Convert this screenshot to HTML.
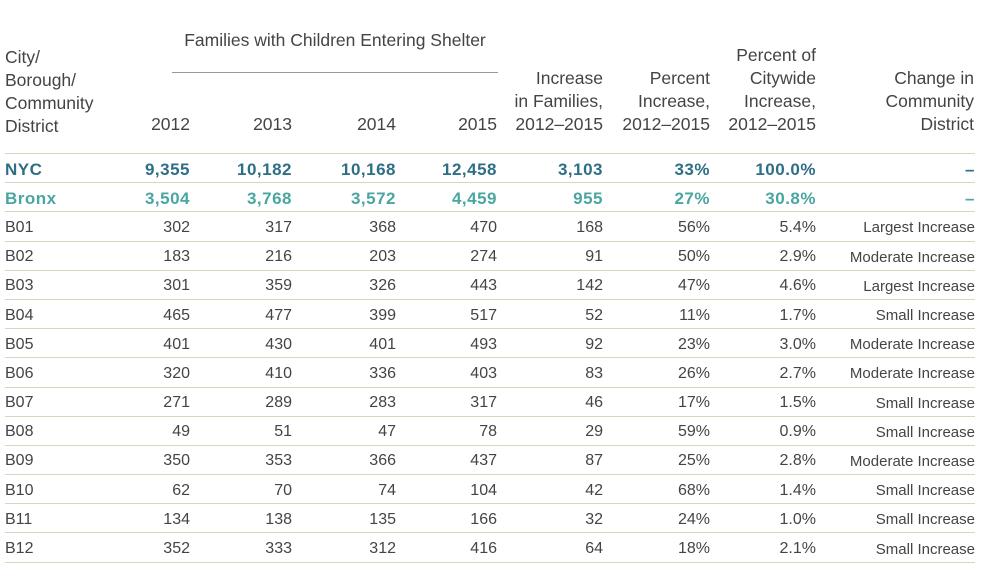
<!DOCTYPE html>
<html><head><meta charset="utf-8"><style>
body{margin:0;width:984px;height:574px;background:#fff;position:relative;font-family:"Liberation Sans",sans-serif;color:#444;overflow:hidden}
.h{position:absolute;font-size:17.5px;line-height:23px;color:#444}
.r{text-align:right}
table{position:absolute;left:5px;top:153px;border-collapse:collapse;table-layout:fixed;width:970px}
td{height:25.2px;padding:3px 0 0 0;border-top:1px solid #d6d6bd;font-size:16px;text-align:right;white-space:nowrap;vertical-align:middle}
td:first-child{text-align:left}
td.c{font-size:15px}
tr:last-child td{border-bottom:1px solid #d6d6bd}
tr.n td{color:#2e6f86;font-weight:bold;font-size:17px;letter-spacing:.5px}
tr.b td{color:#4aa6a0;font-weight:bold;font-size:17px;letter-spacing:.5px}
</style></head><body>
<div class="h" style="left:5px;top:46px">City/<br>Borough/<br>Community<br>District</div>
<div class="h" style="left:172px;top:29px;width:326px;text-align:center">Families with Children Entering Shelter</div>
<div style="position:absolute;left:172px;top:72px;width:326px;border-top:1px solid #999"></div>
<div class="h r" style="left:100px;top:113px;width:90px">2012</div>
<div class="h r" style="left:200px;top:113px;width:92px">2013</div>
<div class="h r" style="left:300px;top:113px;width:96px">2014</div>
<div class="h r" style="left:400px;top:113px;width:97px">2015</div>
<div class="h r" style="left:480px;top:67px;width:123px">Increase<br>in Families,<br>2012–2015</div>
<div class="h r" style="left:600px;top:67px;width:110px">Percent<br>Increase,<br>2012–2015</div>
<div class="h r" style="left:700px;top:44px;width:116px">Percent of<br>Citywide<br>Increase,<br>2012–2015</div>
<div class="h r" style="left:820px;top:67px;width:154px">Change in<br>Community<br>District</div>
<table>
<colgroup><col style="width:115px"><col style="width:70px"><col style="width:102px"><col style="width:104px"><col style="width:101px"><col style="width:106px"><col style="width:107px"><col style="width:106px"><col style="width:159px"></colgroup>
<tr class="n"><td>NYC</td><td>9,355</td><td>10,182</td><td>10,168</td><td>12,458</td><td>3,103</td><td>33%</td><td>100.0%</td><td>–</td></tr>
<tr class="b"><td>Bronx</td><td>3,504</td><td>3,768</td><td>3,572</td><td>4,459</td><td>955</td><td>27%</td><td>30.8%</td><td>–</td></tr>
<tr><td>B01</td><td>302</td><td>317</td><td>368</td><td>470</td><td>168</td><td>56%</td><td>5.4%</td><td class="c">Largest Increase</td></tr>
<tr><td>B02</td><td>183</td><td>216</td><td>203</td><td>274</td><td>91</td><td>50%</td><td>2.9%</td><td class="c">Moderate Increase</td></tr>
<tr><td>B03</td><td>301</td><td>359</td><td>326</td><td>443</td><td>142</td><td>47%</td><td>4.6%</td><td class="c">Largest Increase</td></tr>
<tr><td>B04</td><td>465</td><td>477</td><td>399</td><td>517</td><td>52</td><td>11%</td><td>1.7%</td><td class="c">Small Increase</td></tr>
<tr><td>B05</td><td>401</td><td>430</td><td>401</td><td>493</td><td>92</td><td>23%</td><td>3.0%</td><td class="c">Moderate Increase</td></tr>
<tr><td>B06</td><td>320</td><td>410</td><td>336</td><td>403</td><td>83</td><td>26%</td><td>2.7%</td><td class="c">Moderate Increase</td></tr>
<tr><td>B07</td><td>271</td><td>289</td><td>283</td><td>317</td><td>46</td><td>17%</td><td>1.5%</td><td class="c">Small Increase</td></tr>
<tr><td>B08</td><td>49</td><td>51</td><td>47</td><td>78</td><td>29</td><td>59%</td><td>0.9%</td><td class="c">Small Increase</td></tr>
<tr><td>B09</td><td>350</td><td>353</td><td>366</td><td>437</td><td>87</td><td>25%</td><td>2.8%</td><td class="c">Moderate Increase</td></tr>
<tr><td>B10</td><td>62</td><td>70</td><td>74</td><td>104</td><td>42</td><td>68%</td><td>1.4%</td><td class="c">Small Increase</td></tr>
<tr><td>B11</td><td>134</td><td>138</td><td>135</td><td>166</td><td>32</td><td>24%</td><td>1.0%</td><td class="c">Small Increase</td></tr>
<tr><td>B12</td><td>352</td><td>333</td><td>312</td><td>416</td><td>64</td><td>18%</td><td>2.1%</td><td class="c">Small Increase</td></tr>
</table>
</body></html>
